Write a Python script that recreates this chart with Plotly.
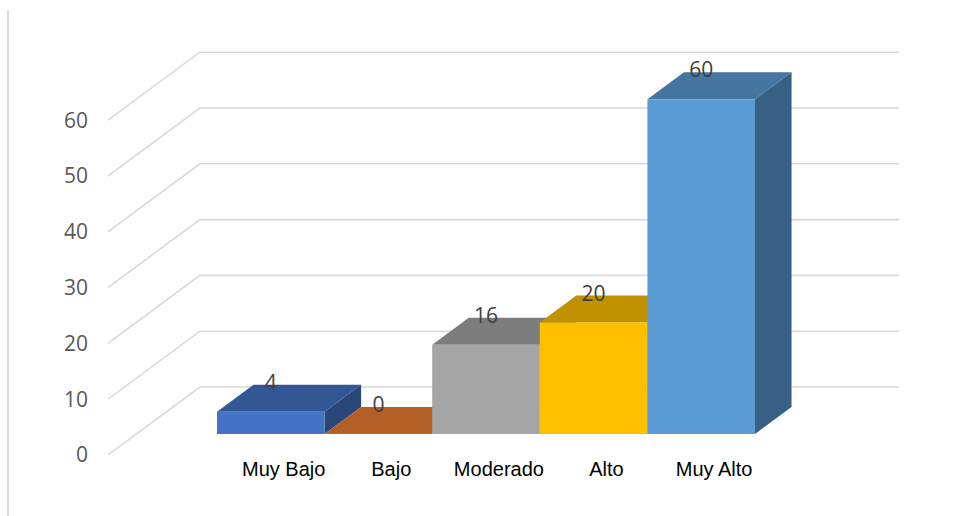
import plotly.graph_objects as go

# ---- data ----
categories = ["Muy Bajo", "Bajo", "Moderado", "Alto", "Muy Alto"]
values = [4, 0, 16, 20, 60]
front_colors = ["#4472C4", "#ED7D31", "#A5A5A5", "#FFC000", "#5B9BD5"]
y_ticks = [0, 10, 20, 30, 40, 50, 60]

# ---- geometry (projection of the pseudo-3D view) ----
W, H = 955, 516
ML, MB = 108, 61
PX_PER_CAT = 107.6
PX_PER_VAL = 5.58
CAT0_PX = 242.4                  # pixel of category 0 on the front floor edge
DX = 92 / PX_PER_CAT             # depth shift in category units (full depth)
DY = 68 / PX_PER_VAL             # depth shift in value units (full depth)
D_FRONT, D_BACK = 21 / 68, 48 / 68   # depth of bar front / back planes
XL, XR = -1.25, 5.25             # floor extent (category units)
BAR_W = 1.0


def proj(x, v, d):
    return x + d * DX, v + d * DY


def shade(hexcol, f):
    h = hexcol.lstrip("#")
    r, g, b = (int(h[k:k + 2], 16) for k in (0, 2, 4))
    return "#%02X%02X%02X" % (int(r * f), int(g * f), int(b * f))


fig = go.Figure()

# gridlines: front diagonal + back wall horizontal
gx, gy = [], []
for v in y_ticks:
    p0 = proj(XL, v, 0)
    p1 = proj(XL, v, 1)
    p2 = proj(XR, v, 1)
    gx += [p0[0], p1[0], p2[0], None]
    gy += [p0[1], p1[1], p2[1], None]
fig.add_trace(go.Scatter(x=gx, y=gy, mode="lines",
                         line=dict(color="#D9D9D9", width=1.6),
                         hoverinfo="skip", showlegend=False))


def poly(pts, color):
    xs = [p[0] for p in pts] + [pts[0][0]]
    ys = [p[1] for p in pts] + [pts[0][1]]
    fig.add_trace(go.Scatter(x=xs, y=ys, mode="lines", fill="toself",
                             fillcolor=color, line=dict(width=0, color=color),
                             hoverinfo="skip", showlegend=False))


for i, (v, c) in enumerate(zip(values, front_colors)):
    l, r = i - BAR_W / 2, i + BAR_W / 2
    # right side face
    poly([proj(r, 0, D_FRONT), proj(r, v, D_FRONT), proj(r, v, D_BACK), proj(r, 0, D_BACK)], shade(c, 0.62))
    # top face
    poly([proj(l, v, D_FRONT), proj(r, v, D_FRONT), proj(r, v, D_BACK), proj(l, v, D_BACK)], shade(c, 0.76))
    # front face
    if v > 0:
        poly([proj(l, 0, D_FRONT), proj(r, 0, D_FRONT), proj(r, v, D_FRONT), proj(l, v, D_FRONT)], c)

# data labels
lx = [proj(i, v, D_FRONT)[0] for i, v in enumerate(values)]
ly = [proj(i, v, D_BACK)[1] for i, v in enumerate(values)]
fig.add_trace(go.Scatter(x=lx, y=ly, mode="text", text=[str(v) for v in values],
                         textposition="middle center",
                         textfont=dict(family="Open Sans", size=21, color="#404040"),
                         hoverinfo="skip", showlegend=False, cliponaxis=False))

x_lo = (ML - CAT0_PX) / PX_PER_CAT
x_hi = (W - CAT0_PX) / PX_PER_CAT
y_hi = (H - MB) / PX_PER_VAL

tick_pos = [(i + (D_FRONT + D_BACK) / 2 * DX) - 0.05 for i in range(len(categories))]

fig.update_layout(
    width=W, height=H,
    margin=dict(l=ML, r=0, t=0, b=MB),
    paper_bgcolor="white", plot_bgcolor="white",
    showlegend=False,
    xaxis=dict(range=[x_lo, x_hi], showgrid=False, zeroline=False, showline=False,
               tickmode="array", tickvals=tick_pos, ticktext=categories,
               tickfont=dict(family="Liberation Sans", size=20, color="#000000"),
               ticks="", fixedrange=True),
    yaxis=dict(range=[0, y_hi], showgrid=False, zeroline=False, showline=False,
               tickmode="array", tickvals=y_ticks, ticktext=[str(t) for t in y_ticks],
               tickfont=dict(family="Open Sans", size=21, color="#595959"),
               ticks="", ticklabelstandoff=19, fixedrange=True),
    shapes=[dict(type="line", xref="paper", yref="paper",
                 x0=(8 - ML) / (W - ML), x1=(8 - ML) / (W - ML),
                 y0=(H - MB - 10) / (H - MB), y1=-MB / (H - MB),
                 line=dict(color="#D9D9D9", width=2))],
)

fig.write_html("out.html")
